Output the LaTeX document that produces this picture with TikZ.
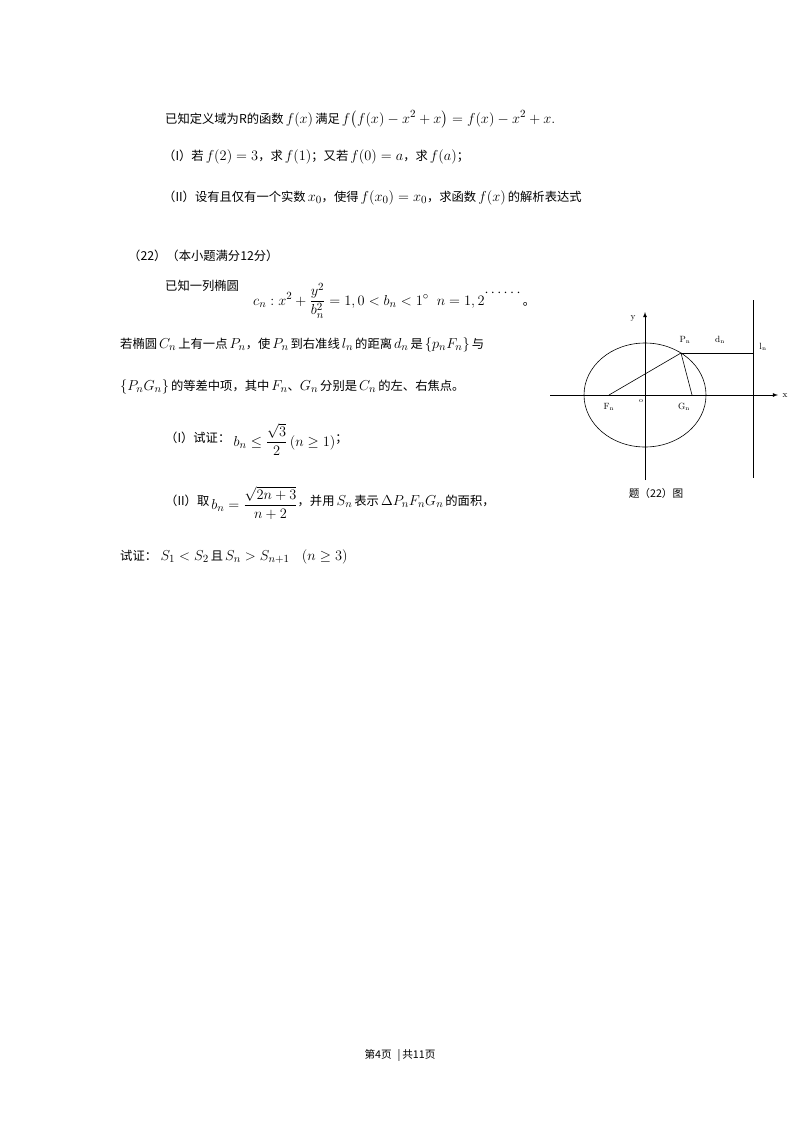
\documentclass[tikz,border=0pt]{standalone}
\usepackage{fontspec}
\usepackage{amsmath}
\newfontfamily\cjk[Scale=0.82]{Noto Sans CJK SC}
\begin{document}
\begin{tikzpicture}[x=1pt,y=-1pt,
  txt/.style={anchor=base west,inner sep=0pt,font=\cjk\fontsize{15}{17}\selectfont},
  lab/.style={inner sep=0pt,font=\fontsize{9}{10}\selectfont},
  ln/.style={line width=0.8pt}]
\useasboundingbox (0,0) rectangle (800,1132);
\fill[white] (0,0) rectangle (800,1132);
% problem 21
\node[txt] (t1) at (165,123) {已知定义域为R的函数\,$f(x)$\,满足\,$f\bigl(f(x)-x^2+x\bigr)=f(x)-x^2+x.$};
\node[txt] (t2) at (163,160) {（I）若\,$f(2)=3$，求\,$f(1)$；又若\,$f(0)=a$，求\,$f(a)$；};
\node[txt] (t3) at (163,201) {（II）设有且仅有一个实数\,$x_0$，使得\,$f(x_0)=x_0$，求函数\,$f(x)$\,的解析表达式};
% problem 22
\node[txt] (t4) at (128,260) {（22）（本小题满分12分）};
\node[txt] (t5) at (165,290) {已知一列椭圆};
\node[txt] (t6) at (253,305) {$c_n: x^2+\dfrac{y^2}{b_n^2}=1, 0<b_n<1^{\circ}\;\;n=1,2$\raisebox{9pt}{$\cdots\cdots$}。};
\node[txt] (t7) at (120,348) {若椭圆\,$C_n$\,上有一点\,$P_n$，使\,$P_n$\,到右准线\,$l_n$\,的距离\,$d_n$\,是\,$\{p_nF_n\}$\,与};
\node[txt] (t8) at (120,390) {$\{P_nG_n\}$\,的等差中项，其中\,$F_n$、$G_n$\,分别是\,$C_n$\,的左、右焦点。};
\node[txt] (t9) at (165,442) {（I）试证：\;\raisebox{-4pt}{$b_n\le\dfrac{\sqrt3}{2}\,(n\ge1)$}；};
\node[txt] (t10) at (165,505) {（II）取\,\raisebox{-4pt}{$b_n=\dfrac{\sqrt{2n+3}}{n+2}$}，并用\,$S_n$\,表示\,$\Delta P_nF_nG_n$\,的面积，};
\node[txt] (t11) at (120,560) {试证：\;$S_1<S_2$\,且\,$S_n>S_{n+1}\quad(n\ge3)$};
% figure
\coordinate (xs) at (550,395); \coordinate (xe) at (778,395);
\coordinate (ys) at (645,480); \coordinate (ye) at (645,312);
\draw[ln,-latex] (xs) -- (xe);
\draw[ln,-latex] (ys) -- (ye);
\draw[line width=0.6pt] (645,395) ellipse [x radius=61, y radius=52];
\coordinate (L1) at (753,300); \coordinate (L2) at (753,478);
\draw[ln] (L1) -- (L2);
\coordinate (P) at (681,353); \coordinate (F) at (609,395); \coordinate (G) at (692,395); \coordinate (D) at (753,353);
\draw[line width=0.6pt] (F) -- (P) -- (G);
\draw[ln] (P) -- (D);
\node[lab] (xl) at (785,396) {x};
\node[lab] (yl) at (633,318) {y};
\node[lab] (pl) at (685,340) {$\mathrm{P_n}$};
\node[lab] (dl) at (720,340) {$\mathrm{d_n}$};
\node[lab] (ll) at (763,347) {$\mathrm{l_n}$};
\node[lab] (fl) at (609,407) {$\mathrm{F_n}$};
\node[lab] (ol) at (641,401) {\fontsize{7}{8}\selectfont o};
\node[lab] (gl) at (684,407) {$\mathrm{G_n}$};
\node[lab,font=\cjk\fontsize{13}{14}\selectfont] (cap) at (656,493) {题（22）图};
% footer
\node[inner sep=0pt,font=\cjk\fontsize{13}{14}\selectfont] (foot) at (400,1055) {第4页\;\;|\,共11页};
\end{tikzpicture}
\end{document}
